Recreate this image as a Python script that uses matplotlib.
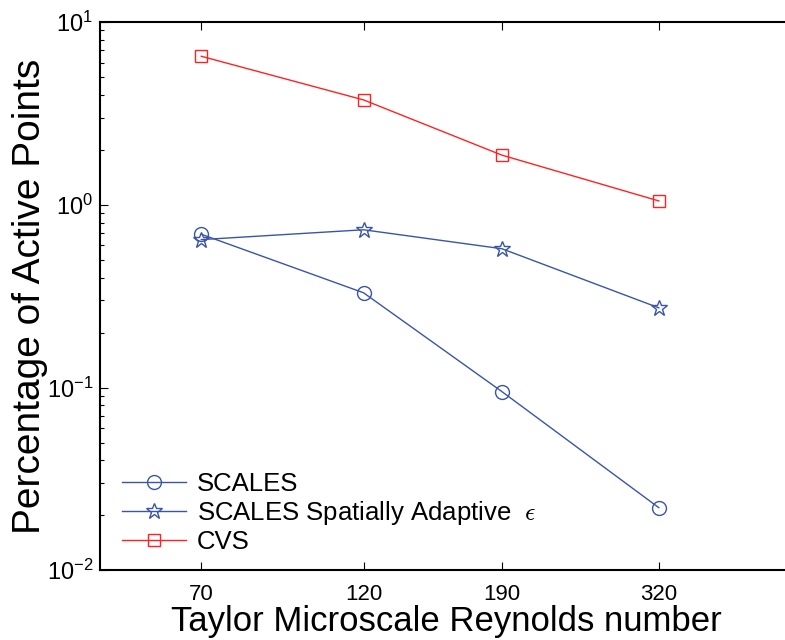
import matplotlib
matplotlib.use('Agg')
from matplotlib import pyplot as plt
from matplotlib.ticker import NullLocator, FixedLocator, FixedFormatter

plt.rcParams['font.family'] = ['Liberation Sans', 'DejaVu Sans']
plt.rcParams['mathtext.fontset'] = 'cm'

# Taylor microscale Reynolds numbers
re_lambda = [70, 120, 190, 320]
re_labels = ['70', '120', '190', '320']

# percentage of active points
scales = [0.69, 0.33, 0.095, 0.022]
scales_adaptive = [0.645, 0.73, 0.575, 0.273]
cvs = [6.5, 3.75, 1.87, 1.05]

blue = '#3a55a6'
red = '#ff2222'

fig = plt.figure(figsize=(7.85, 6.40), dpi=100)
ax = fig.add_axes([0.1274, 0.109, 0.883, 0.8565])

ax.plot(re_lambda, scales, '-o', color=blue, lw=1, ms=10, mfc='none', mew=1, label='SCALES')
ax.plot(re_lambda, scales_adaptive, '-*', color=blue, lw=1, ms=12, mfc='none', mew=1,
        label=r'SCALES Spatially Adaptive  $\epsilon$')
ax.plot(re_lambda, cvs, '-s', color=red, lw=1, ms=9, mfc='none', mew=1, label='CVS')

ax.set_xscale('log')
ax.set_yscale('log')
ax.set_xlim(50, 500)
ax.set_ylim(1e-2, 1e1)

ax.xaxis.set_major_locator(FixedLocator(re_lambda))
ax.xaxis.set_major_formatter(FixedFormatter(re_labels))
ax.xaxis.set_minor_locator(NullLocator())

ax.tick_params(which='both', direction='in', top=True, right=True, labelsize=16, pad=10)
ax.tick_params(which='major', length=6, width=0.8)
ax.tick_params(which='minor', length=3, width=0.8)
ax.tick_params(axis='y', labelsize=17, pad=5)

ax.set_xlabel('Taylor Microscale Reynolds number', fontsize=25, labelpad=0)
ax.set_ylabel('Percentage of Active Points', fontsize=28)
ax.yaxis.set_label_coords(-0.075, 0.5)

for s in ax.spines.values():
    s.set_linewidth(1.5)

ax.legend(loc='lower left', bbox_to_anchor=(0.008, 0.0), frameon=False, fontsize=18.5,
          handlelength=2.5, borderaxespad=0.25, labelspacing=0.1, handletextpad=0.4)

fig.savefig('out.png', dpi=100)
